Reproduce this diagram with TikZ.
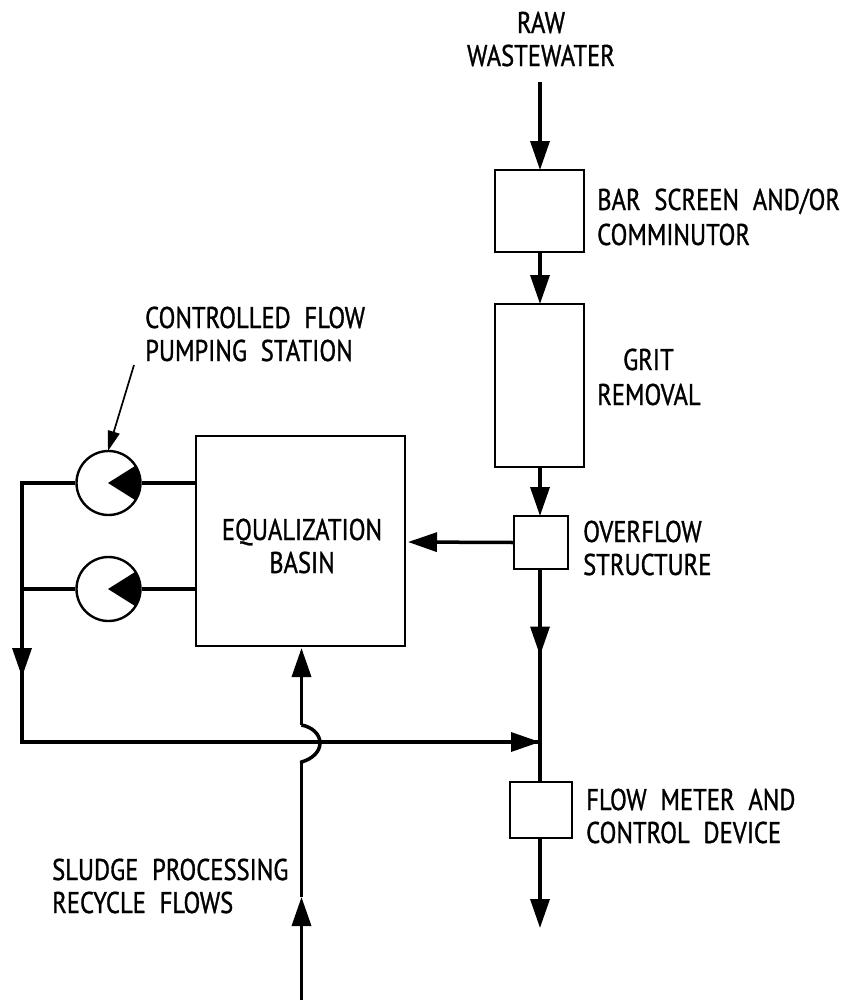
\documentclass[tikz,border=0pt]{standalone}
\usepackage{fontspec}
\setmainfont[FakeStretch=0.82,FakeBold=1,WordSpace=2.1]{PT Sans}
\usetikzlibrary{arrows.meta,decorations.markings}
\tikzset{
 blk/.style={draw,line width=2pt,inner sep=0pt,fill=white,minimum width=#1},
 lbl/.style={font=\fontsize{30}{33}\selectfont,inner sep=0pt,text=black},
 flow/.style={line width=3.5pt},
 tip/.style={-{Triangle[length=29pt,width=19pt]}},
 midtip/.style={postaction={decorate},decoration={markings,mark=at position #1 with {\arrow{Triangle[length=29pt,width=19pt]}}}},
 pump/.style={circle,draw,line width=2.4pt,minimum size=64pt,inner sep=0pt,fill=white},
}
\begin{document}
\begin{tikzpicture}[x=1pt,y=-1pt]
\useasboundingbox (0,0) rectangle (853,1001);
\fill[white] (0,0) rectangle (853,1001);
% boxes
\node[blk=89pt,minimum height=82pt] (bar) at (539,211) {};
\node[blk=89pt,minimum height=163pt] (grit) at (539,385.5) {};
\node[blk=54pt,minimum height=53pt] (over) at (541,542.5) {};
\node[blk=62pt,minimum height=56pt] (meter) at (541,810) {};
\node[blk=209pt,minimum height=210pt] (basin) at (300.5,541) {};
\node[pump] (p1) at (108.5,483) {};
\node[pump] (p2) at (108.5,589) {};
% coordinates
\coordinate (raw) at (540,82);
\coordinate (barT) at (540,170);
\coordinate (barB) at (540,252);
\coordinate (gritT) at (540,304);
\coordinate (gritB) at (540,467);
\coordinate (overT) at (540,516);
\coordinate (overB) at (540,569);
\coordinate (merge) at (540,742);
\coordinate (meterT) at (540,782);
\coordinate (meterB) at (540,838);
\coordinate (out) at (540,928);
\coordinate (basinIn) at (408,542);
\coordinate (tl) at (22,483);
\coordinate (ml) at (22,589);
\coordinate (bl) at (22,742);
\coordinate (b1) at (196,483);
\coordinate (b2) at (196,589);
\coordinate (rec) at (301.5,1000);
\coordinate (recTip) at (301.5,897);
\coordinate (hopB) at (301.5,763);
\coordinate (hopT) at (301.5,725);
\coordinate (basinB) at (301.5,648);
\coordinate (ptr) at (134,365);
\coordinate (ptrE) at (108,451);
% pump wedges
\begin{scope}
\clip (p1) circle (32pt);
\fill (108,483) -- (143,461) -- (143,505) -- cycle;
\end{scope}
\begin{scope}
\clip (p2) circle (32pt);
\fill (108,589) -- (143,567) -- (143,611) -- cycle;
\end{scope}
% flows
\draw[flow,tip] (raw) -- (barT);
\draw[flow,tip] (barB) -- (gritT);
\draw[flow,tip] (gritB) -- (overT);
\draw[flow,midtip=0.5] (overB) -- (merge);
\draw[flow] (merge) -- (meterT);
\draw[flow,tip] (meterB) -- (out);
\draw[flow,tip] (over.west) -- (basinIn);
\draw[flow] (b1) -- (p1);
\draw[flow] (b2) -- (p2);
\draw[flow,line join=miter] (p1) -- (tl) -- (bl) -- (merge);
\draw[flow] (p2) -- (ml);
\draw[flow,tip] (22,620) -- (22,677);
\draw[flow,tip] (400,742) -- (merge);
\draw[flow,tip] (hopT) -- (basinB);
\draw[flow,tip] (rec) -- (recTip);
\draw[flow] (recTip) -- (hopB);
\draw[flow] (hopB) -- ++(0,-1) .. controls (312,759) and (320,752) .. (320,743) .. controls (320,734) and (312,727) .. (hopT);
\draw[line width=1.7pt,-{Triangle[length=20pt,width=12pt]}] (ptr) -- (ptrE);
% labels
\node[lbl,align=center,anchor=base] (t1) at (541,66) {RAW\\WASTEWATER};
\node[lbl,align=left,anchor=base west] (t2) at (597,245) {BAR SCREEN AND/OR\\[2pt]COMMINUTOR};
\node[lbl,align=left,anchor=base west] (t3) at (597,405) {\hspace*{26pt}GRIT\\[2pt]REMOVAL};
\node[lbl,align=left,anchor=base west] (t4) at (145,361) {CONTROLLED FLOW\\PUMPING STATION};
\node[lbl,align=center,anchor=base] (t5) at (302,573) {EQUALIZATION\\BASIN};
\node[lbl,align=left,anchor=base west] (t6) at (583,575) {OVERFLOW\\STRUCTURE};
\node[lbl,align=left,anchor=base west] (t7) at (586,843) {FLOW METER AND\\CONTROL DEVICE};
\node[lbl,align=left,anchor=base west] (t8) at (52,913) {SLUDGE PROCESSING\\RECYCLE FLOWS};
\end{tikzpicture}
\end{document}
